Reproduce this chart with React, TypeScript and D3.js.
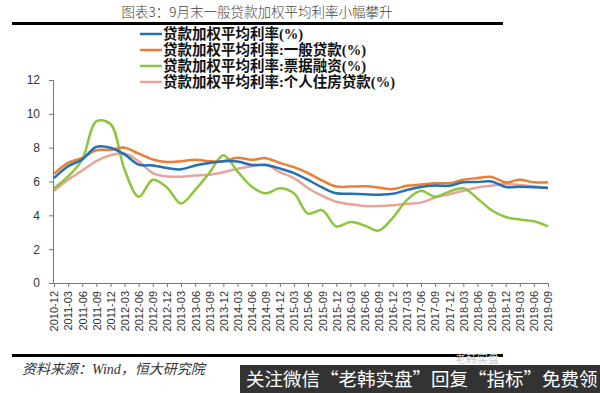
import React, { useEffect, useRef } from 'react'
import * as d3 from 'd3'

const quarters = [
  '2010-12', '2011-03', '2011-06', '2011-09', '2011-12', '2012-03', '2012-06', '2012-09', '2012-12',
  '2013-03', '2013-06', '2013-09', '2013-12', '2014-03', '2014-06', '2014-09', '2014-12',
  '2015-03', '2015-06', '2015-09', '2015-12', '2016-03', '2016-06', '2016-09', '2016-12',
  '2017-03', '2017-06', '2017-09', '2017-12', '2018-03', '2018-06', '2018-09', '2018-12',
  '2019-03', '2019-06', '2019-09',
]

// 贷款加权平均利率(%)
const rateAll = [
  6.2, 6.9, 7.3, 8.05, 8.0, 7.6, 7.0, 6.95, 6.8,
  6.72, 6.95, 7.1, 7.2, 7.18, 6.98, 6.97, 6.77,
  6.5, 6.1, 5.65, 5.3, 5.28, 5.25, 5.22, 5.27,
  5.5, 5.68, 5.76, 5.75, 5.96, 5.97, 6.0, 5.68,
  5.69, 5.66, 5.62,
]
// 一般贷款
const rateGeneral = [
  6.45, 7.1, 7.4, 7.85, 7.87, 8.0, 7.65, 7.3, 7.15,
  7.2, 7.28, 7.2, 7.2, 7.4, 7.28, 7.38, 7.1,
  6.85, 6.5, 6.05, 5.7, 5.7, 5.72, 5.65, 5.55,
  5.75, 5.82, 5.9, 5.9, 6.1, 6.2, 6.27, 5.95,
  6.1, 5.95, 5.96,
]
// 票据融资
const rateBill = [
  5.6, 6.3, 7.3, 9.55, 9.4, 6.7, 5.1, 6.1, 5.65,
  4.7, 5.5, 6.5, 7.55, 6.6, 5.7, 5.3, 5.6,
  5.3, 4.1, 4.3, 3.35, 3.6, 3.4, 3.1, 3.85,
  4.9, 5.45, 5.1, 5.4, 5.6, 5.0, 4.3, 3.9,
  3.75, 3.65, 3.35,
]
// 个人住房贷款
const rateMortgage = [
  5.45, 6.1, 6.65, 7.2, 7.55, 7.65, 7.2, 6.5, 6.3,
  6.28, 6.35, 6.4, 6.55, 6.75, 6.9, 7.0, 6.55,
  6.2, 5.6, 5.15, 4.8, 4.65, 4.55, 4.55, 4.6,
  4.68, 4.75, 5.05, 5.25, 5.45, 5.65, 5.75, 5.85,
  5.8, 5.7, 5.65,
]

const seriesNames = [
  '贷款加权平均利率(%)',
  '贷款加权平均利率:一般贷款(%)',
  '贷款加权平均利率:票据融资(%)',
  '贷款加权平均利率:个人住房贷款(%)',
]
const seriesColors = ['#2271b3', '#ed7d31', '#8cc63e', '#e8a39b']
const yTicks = [0, 2, 4, 6, 8, 10, 12]

const cjkSerif = '"Liberation Serif", "Noto Sans CJK SC", serif'
const cjkSans = '"Noto Sans CJK SC", sans-serif'

export default function App() {
  const svgRef = useRef<SVGSVGElement>(null)

  useEffect(() => {
    const svg = d3.select(svgRef.current)
    svg.selectAll('*').remove()

    const x = d3.scalePoint<string>().domain(quarters).range([54, 548])
    const y = d3.scaleLinear().domain([0, 12]).range([283, 80])

    // title and rules
    svg.append('text')
      .attr('x', 257).attr('y', 17)
      .attr('text-anchor', 'middle')
      .style('font-family', cjkSans)
      .style('font-size', '13.5px')
      .style('font-weight', 300)
      .style('fill', '#444')
      .text('图表3：9月末一般贷款加权平均利率小幅攀升')
    svg.append('rect').attr('x', 12).attr('y', 22).attr('width', 491).attr('height', 3).attr('fill', '#000')
    svg.append('rect').attr('x', 12).attr('y', 354).attr('width', 491).attr('height', 3).attr('fill', '#000')

    // y axis
    const yAxis = svg.append('g')
      .attr('transform', 'translate(53,0)')
      .call(d3.axisLeft(y).tickValues(yTicks).tickSize(4).tickPadding(9).tickFormat(d3.format('d')))
    yAxis.select('.domain').attr('stroke', '#777')
    yAxis.selectAll('line').attr('stroke', '#777')
    yAxis.selectAll('text')
      .style('font-family', 'Liberation Sans, Arial, sans-serif')
      .style('font-size', '12px')
      .style('fill', '#333')

    // x axis
    const xAxis = svg.append('g')
      .attr('transform', 'translate(0,283)')
      .call(d3.axisBottom(x).tickSize(4).tickSizeOuter(0))
    xAxis.select('.domain').attr('stroke', '#777')
    xAxis.selectAll('line').attr('stroke', '#777')
    xAxis.selectAll('text')
      .attr('transform', 'rotate(-90)')
      .attr('x', -8).attr('y', 0).attr('dy', '0.35em')
      .attr('text-anchor', 'end')
      .style('font-family', 'Liberation Sans, Arial, sans-serif')
      .style('font-size', '11px')
      .style('fill', '#333')

    // lines
    const all = [rateAll, rateGeneral, rateBill, rateMortgage]
    const line = d3.line<number>()
      .x((d, i) => x(quarters[i]) as number)
      .y(d => y(d))
      .curve(d3.curveCatmullRom.alpha(0.5))
    const drawOrder = [3, 2, 1, 0]
    drawOrder.forEach(k => {
      svg.append('path')
        .datum(all[k])
        .attr('fill', 'none')
        .attr('stroke', seriesColors[k])
        .attr('stroke-width', 2.5)
        .attr('d', line)
    })

    // legend
    seriesNames.forEach((name, k) => {
      const ly = 34 + k * 16
      svg.append('line')
        .attr('x1', 140).attr('x2', 162)
        .attr('y1', ly).attr('y2', ly)
        .attr('stroke', seriesColors[k]).attr('stroke-width', 2.5)
      svg.append('text')
        .attr('x', 163).attr('y', ly).attr('dy', '0.36em')
        .style('font-family', cjkSerif)
        .style('font-size', '14.5px')
        .style('font-weight', 'bold')
        .style('fill', '#111')
        .text(name)
    })

    // source
    svg.append('text')
      .attr('x', 22).attr('y', 374)
      .style('font-family', cjkSerif)
      .style('font-style', 'italic')
      .style('font-size', '14px')
      .style('fill', '#333')
      .text('资料来源：Wind，恒大研究院')

    // watermark
    svg.append('text')
      .attr('x', 455).attr('y', 363)
      .style('font-family', cjkSans)
      .style('font-size', '11px')
      .style('fill', '#ccc')
      .text('老韩实盘')
    svg.append('rect')
      .attr('x', 240).attr('y', 365).attr('width', 360).attr('height', 28)
      .attr('fill', '#333')
    svg.append('text')
      .attr('x', 246).attr('y', 386)
      .style('font-family', cjkSans)
      .style('font-size', '18.5px')
      .style('fill', '#fff')
      .text('关注微信“老韩实盘”回复“指标”免费领')
  }, [])

  return (
    <svg
      ref={svgRef}
      width={600}
      height={393}
      style={{ position: 'absolute', left: 0, top: 0, background: '#fff' }}
    />
  )
}
